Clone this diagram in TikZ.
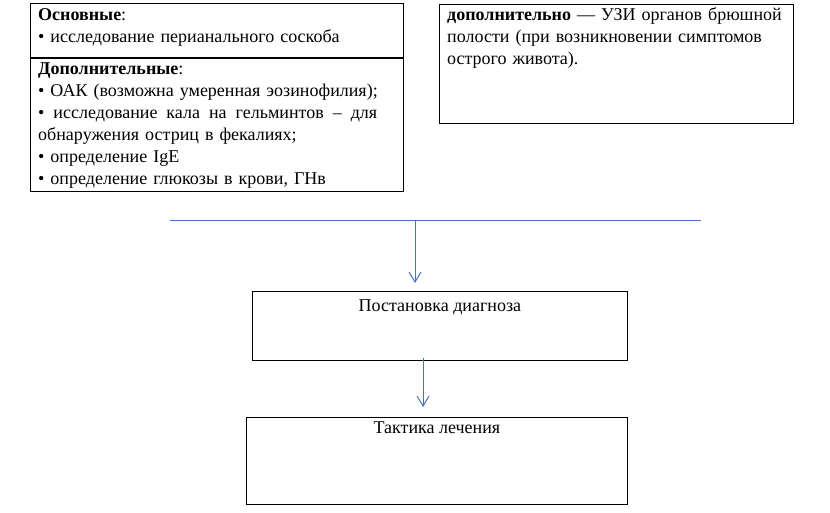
\documentclass[tikz,border=0pt]{standalone}
\usepackage{fontspec}
\setmainfont{Liberation Serif}
\usetikzlibrary{arrows.meta,positioning}

\definecolor{lineblue}{RGB}{68,114,196}
\newcommand{\boxfont}{\fontsize{18}{22}\selectfont}

\tikzset{
  box/.style={draw, line width=0.9pt, inner sep=0pt, anchor=north west},
  txt/.style={inner sep=0pt, text width=#1, font=\boxfont, align=left, anchor=base west},
  ctxt/.style={inner sep=0pt, font=\boxfont, anchor=base},
  bline/.style={draw=lineblue, line width=1pt},
  flow/.style={bline, -{Straight Barb[length=10pt,width=12pt]}},
}

\begin{document}
\begin{tikzpicture}[x=1pt,y=-1pt]
    \useasboundingbox (0,0) rectangle (830,513);
    % boxes
    \node[box, minimum width=373pt, minimum height=54pt] (osn) at (30,3) {};
    \node[box, minimum width=373pt, minimum height=133pt] (dop) at (osn.south west) {};
    \node[box, minimum width=354pt, minimum height=119pt] (usi) at (439,4) {};
    \node[box, minimum width=375pt, minimum height=69pt] (diag) at (252,291) {};
    \node[box, minimum width=381pt, minimum height=87pt] (tact) at (246,417) {};
    % texts
    \node[txt=380pt] (osntxt) at (38,21) {\textbf{Основные}:\\
      • исследование перианального соскоба};
    \node[txt=380pt] (doptxt) at (38,75) {\textbf{Дополнительные}:\\
      • ОАК (возможна умеренная эозинофилия);\\
      \leavevmode\hbox to 339pt{• \hfil исследование \hfil кала \hfil на \hfil гельминтов \hfil – \hfil для}\\
      обнаружения остриц в фекалиях;\\
      • определение IgE\\
      • определение глюкозы в крови, ГНв};
    \node[txt=380pt] (usitxt) at (447,21) {\textbf{дополнительно} — УЗИ органов брюшной\\
      полости (при возникновении симптомов\\
      острого живота).};
    \node[ctxt] (diagtxt) at (diag.north |- 0,311) {Постановка диагноза};
    \node[ctxt] (tacttxt) at (tact.north |- 0,433) {Тактика лечения};
    % connectors
    \coordinate (hl) at (170,220.5);
    \coordinate (hr) at (701,220.5);
    \coordinate (hj) at (415,220.5);
    \coordinate (dj) at (423,0);
    \draw[bline] (hl) -- (hr);
    \draw[flow] (hj) -- ([yshift=8pt]diag.north -| hj);
    \draw[flow] ([yshift=3pt]diag.south -| dj) -- ([yshift=10pt]tact.north -| dj);
\end{tikzpicture}
\end{document}
